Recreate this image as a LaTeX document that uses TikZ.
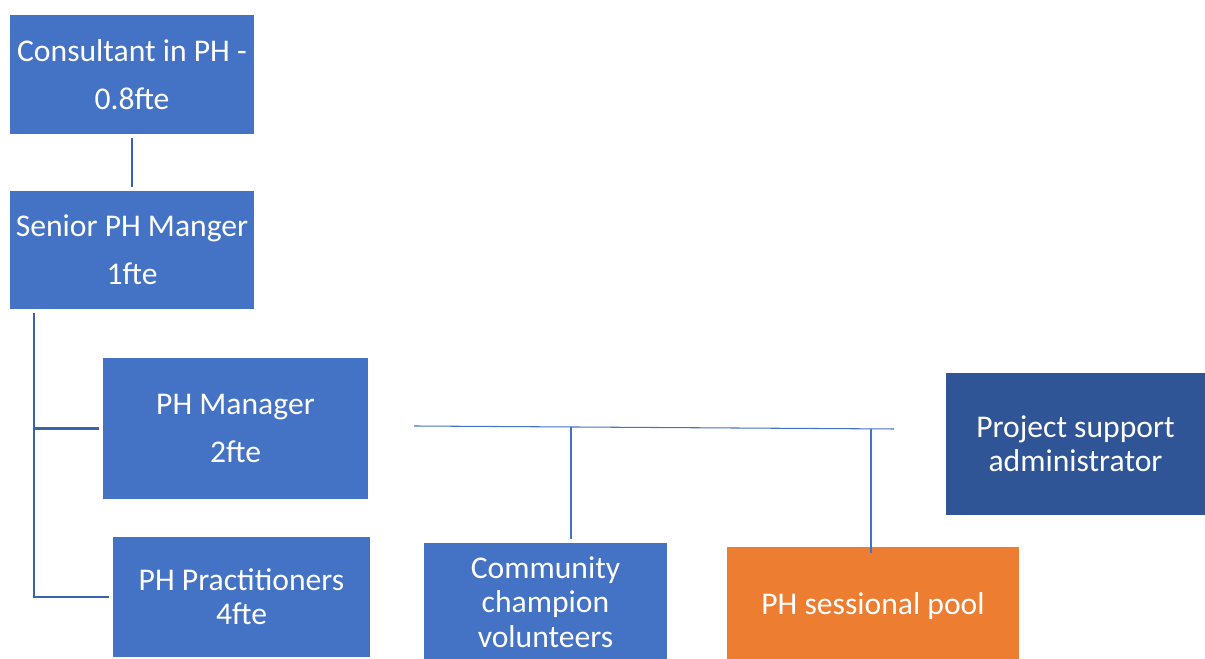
\documentclass[tikz,border=0pt]{standalone}
\usepackage{fontspec}
\setmainfont{Carlito}
\definecolor{boxblue}{HTML}{4472C4}
\definecolor{darkblue}{HTML}{2F5597}
\definecolor{poolorange}{HTML}{ED7D31}
\definecolor{linkblue}{HTML}{3A63AE}
\begin{document}
\begin{tikzpicture}[x=0.02cm,y=0.02cm,
	role_node/.style={rectangle,fill=boxblue,text=white,align=center,inner sep=0pt,outer sep=0.08cm,font=\fontsize{18}{27.5}\selectfont},
	tight_node/.style={role_node,font=\fontsize{18}{19.5}\selectfont},
	link/.style={draw=linkblue,line width=1.2pt},
	thin_link/.style={draw=boxblue,line width=0.6pt}]
		
		\useasboundingbox (0,0) rectangle (1205,659);
		
		\node[role_node,minimum width=4.88cm,minimum height=2.38cm] (cons) at (132,584.5) {Consultant in PH -\\0.8fte};
		\node[role_node,minimum width=4.88cm,minimum height=2.36cm] (senior) at (132,409) {Senior PH Manger\\1fte};
		\node[role_node,minimum width=5.30cm,minimum height=2.82cm] (mgr) at (235.5,230.5) {PH Manager\\2fte};
		\node[tight_node,minimum width=5.14cm,minimum height=2.40cm] (prac) at (241.5,62) {PH Practitioners\\4fte};
		\node[tight_node,minimum width=4.86cm,minimum height=2.38cm] (comm) at (545.5,57) {Community\\champion\\volunteers};
		\node[tight_node,fill=poolorange,minimum width=5.84cm,minimum height=2.36cm] (pool) at (873,53) {PH sessional pool};
		\node[tight_node,fill=darkblue,minimum width=5.18cm,minimum height=2.84cm] (admin) at (1075.5,215) {Project support\\administrator};
		
		\draw[link] (cons) -- (senior);
		\draw[link] ([xshift=0.56cm]senior.south west) |- (mgr.west);
		\draw[link] ([xshift=0.56cm]senior.south west) |- (prac.west);
		
		\coordinate (barL) at (414,233);
		\coordinate (barR) at (894,230);
		\coordinate (tapC) at (571,232);
		\coordinate (tapP) at (871,230);
		\draw[thin_link] (barL) -- (barR);
		\draw[thin_link] (tapC) -- (tapC |- comm.north);
		\draw[thin_link] (tapP) -- ([yshift=-0.2cm]tapP |- pool.north);
		\end{tikzpicture}
\end{document}
